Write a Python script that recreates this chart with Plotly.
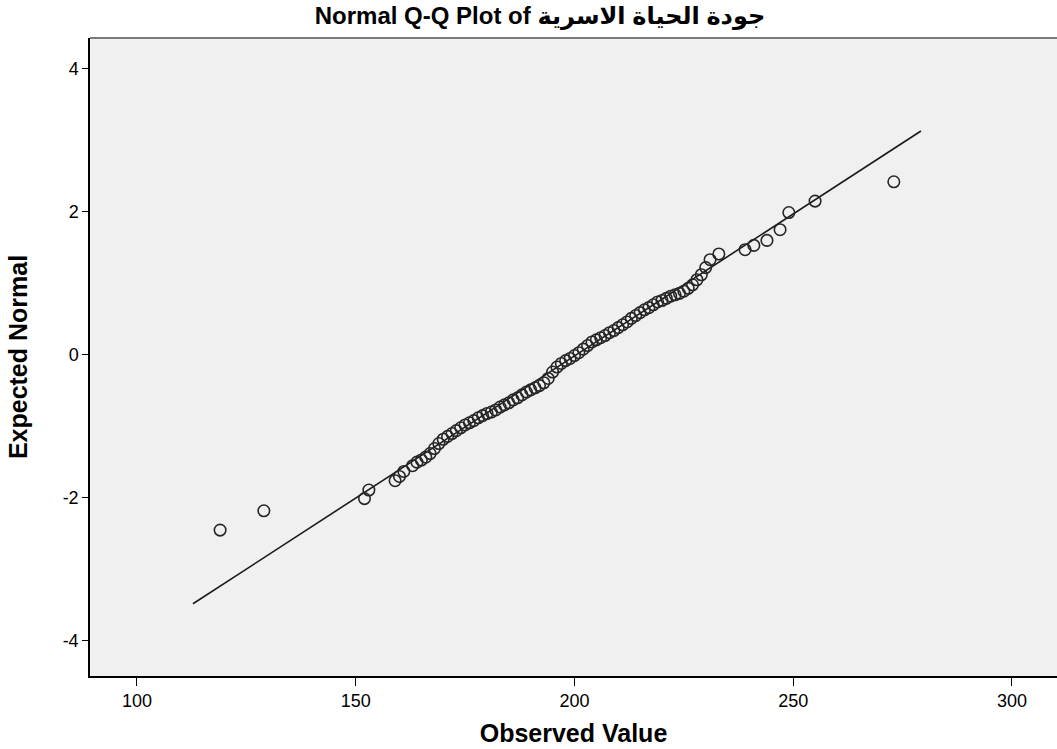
import plotly.graph_objects as go

observed = [119, 129, 152, 153, 159, 160, 161, 163, 164, 165, 166, 167, 168, 169, 170,
            171, 172, 173, 174, 175, 176, 177, 178, 179, 180, 181, 182, 183, 184, 185,
            186, 187, 188, 189, 190, 191, 192, 193, 194, 195, 196, 197, 198, 199, 200,
            201, 202, 203, 204, 205, 206, 207, 208, 209, 210, 211, 212, 213, 214, 215,
            216, 217, 218, 219, 220, 221, 222, 223, 224, 225, 226, 227, 228, 229, 230,
            231, 233, 239, 241, 244, 247, 249, 255, 273]
expected = [-2.45, -2.18, -2.01, -1.89, -1.76, -1.70, -1.63, -1.55, -1.50, -1.47, -1.43, -1.38, -1.31, -1.24, -1.18,
            -1.14, -1.10, -1.06, -1.02, -0.98, -0.95, -0.92, -0.88, -0.85, -0.82, -0.80, -0.77, -0.73, -0.70, -0.67,
            -0.63, -0.60, -0.56, -0.52, -0.49, -0.46, -0.43, -0.39, -0.33, -0.24, -0.17, -0.12, -0.08, -0.05, -0.01,
            0.03, 0.08, 0.13, 0.18, 0.21, 0.24, 0.27, 0.31, 0.34, 0.38, 0.42, 0.46, 0.51, 0.55, 0.59,
            0.63, 0.66, 0.70, 0.74, 0.76, 0.79, 0.82, 0.84, 0.86, 0.89, 0.93, 0.98, 1.05, 1.12, 1.22,
            1.33, 1.41, 1.47, 1.53, 1.60, 1.75, 1.99, 2.15, 2.42]

# Reference line endpoints
line_x = [112.8, 279.2]
line_y = [-3.48, 3.13]

x_ticks = [100, 150, 200, 250, 300]
y_ticks = [-4, -2, 0, 2, 4]

title_text = "Normal Q-Q Plot of جودة الحياة الاسرية"
x_title = "Observed Value"
y_title = "Expected Normal"

fig = go.Figure()
fig.add_trace(go.Scatter(x=line_x, y=line_y, mode="lines",
                         line=dict(color="#1a1a1a", width=1.6), hoverinfo="skip"))
fig.add_trace(go.Scatter(x=observed, y=expected, mode="markers",
                         marker=dict(symbol="circle-open", size=11.5,
                                     line=dict(color="#262626", width=1.6),
                                     color="#262626")))

font_family = "Liberation Sans, Arial, DejaVu Sans, sans-serif"

fig.update_layout(
    width=1057, height=749,
    margin=dict(l=90, r=0, t=38, b=73),
    paper_bgcolor="white",
    plot_bgcolor="#f0f0f0",
    showlegend=False,
    font=dict(family=font_family, color="black", size=18),
    title=dict(text="<b>" + title_text + "</b>", x=540/1057, xanchor="center",
               xref="container", y=1 - 16/749, yanchor="middle", yref="container",
               font=dict(size=24, family=font_family, color="black")),
    xaxis=dict(range=[89.26, 310.3], tickvals=x_ticks, ticktext=[str(v) for v in x_ticks],
               showgrid=False, zeroline=False, showline=True, linecolor="black", linewidth=1.5,
               ticks="outside", ticklen=8, tickcolor="black", tickwidth=1,
               tickfont=dict(size=18),
               title=dict(text="<b>" + x_title + "</b>", font=dict(size=25), standoff=14)),
    yaxis=dict(range=[-4.49, 4.43], tickvals=y_ticks, ticktext=[str(v) for v in y_ticks],
               showgrid=False, zeroline=False, showline=True, linecolor="black", linewidth=1.5,
               ticks="outside", ticklen=6, tickcolor="black", tickwidth=1,
               tickfont=dict(size=18),
               title=dict(text="<b>" + y_title + "</b>", font=dict(size=25), standoff=28)),
    shapes=[dict(type="line", xref="paper", yref="paper", x0=0, x1=1, y0=1, y1=1,
                 line=dict(color="#7a7a7a", width=2))],
)

fig.write_html("out.html", config={"displayModeBar": False},
               post_script="document.body.style.margin='0';document.body.style.overflow='hidden';")
